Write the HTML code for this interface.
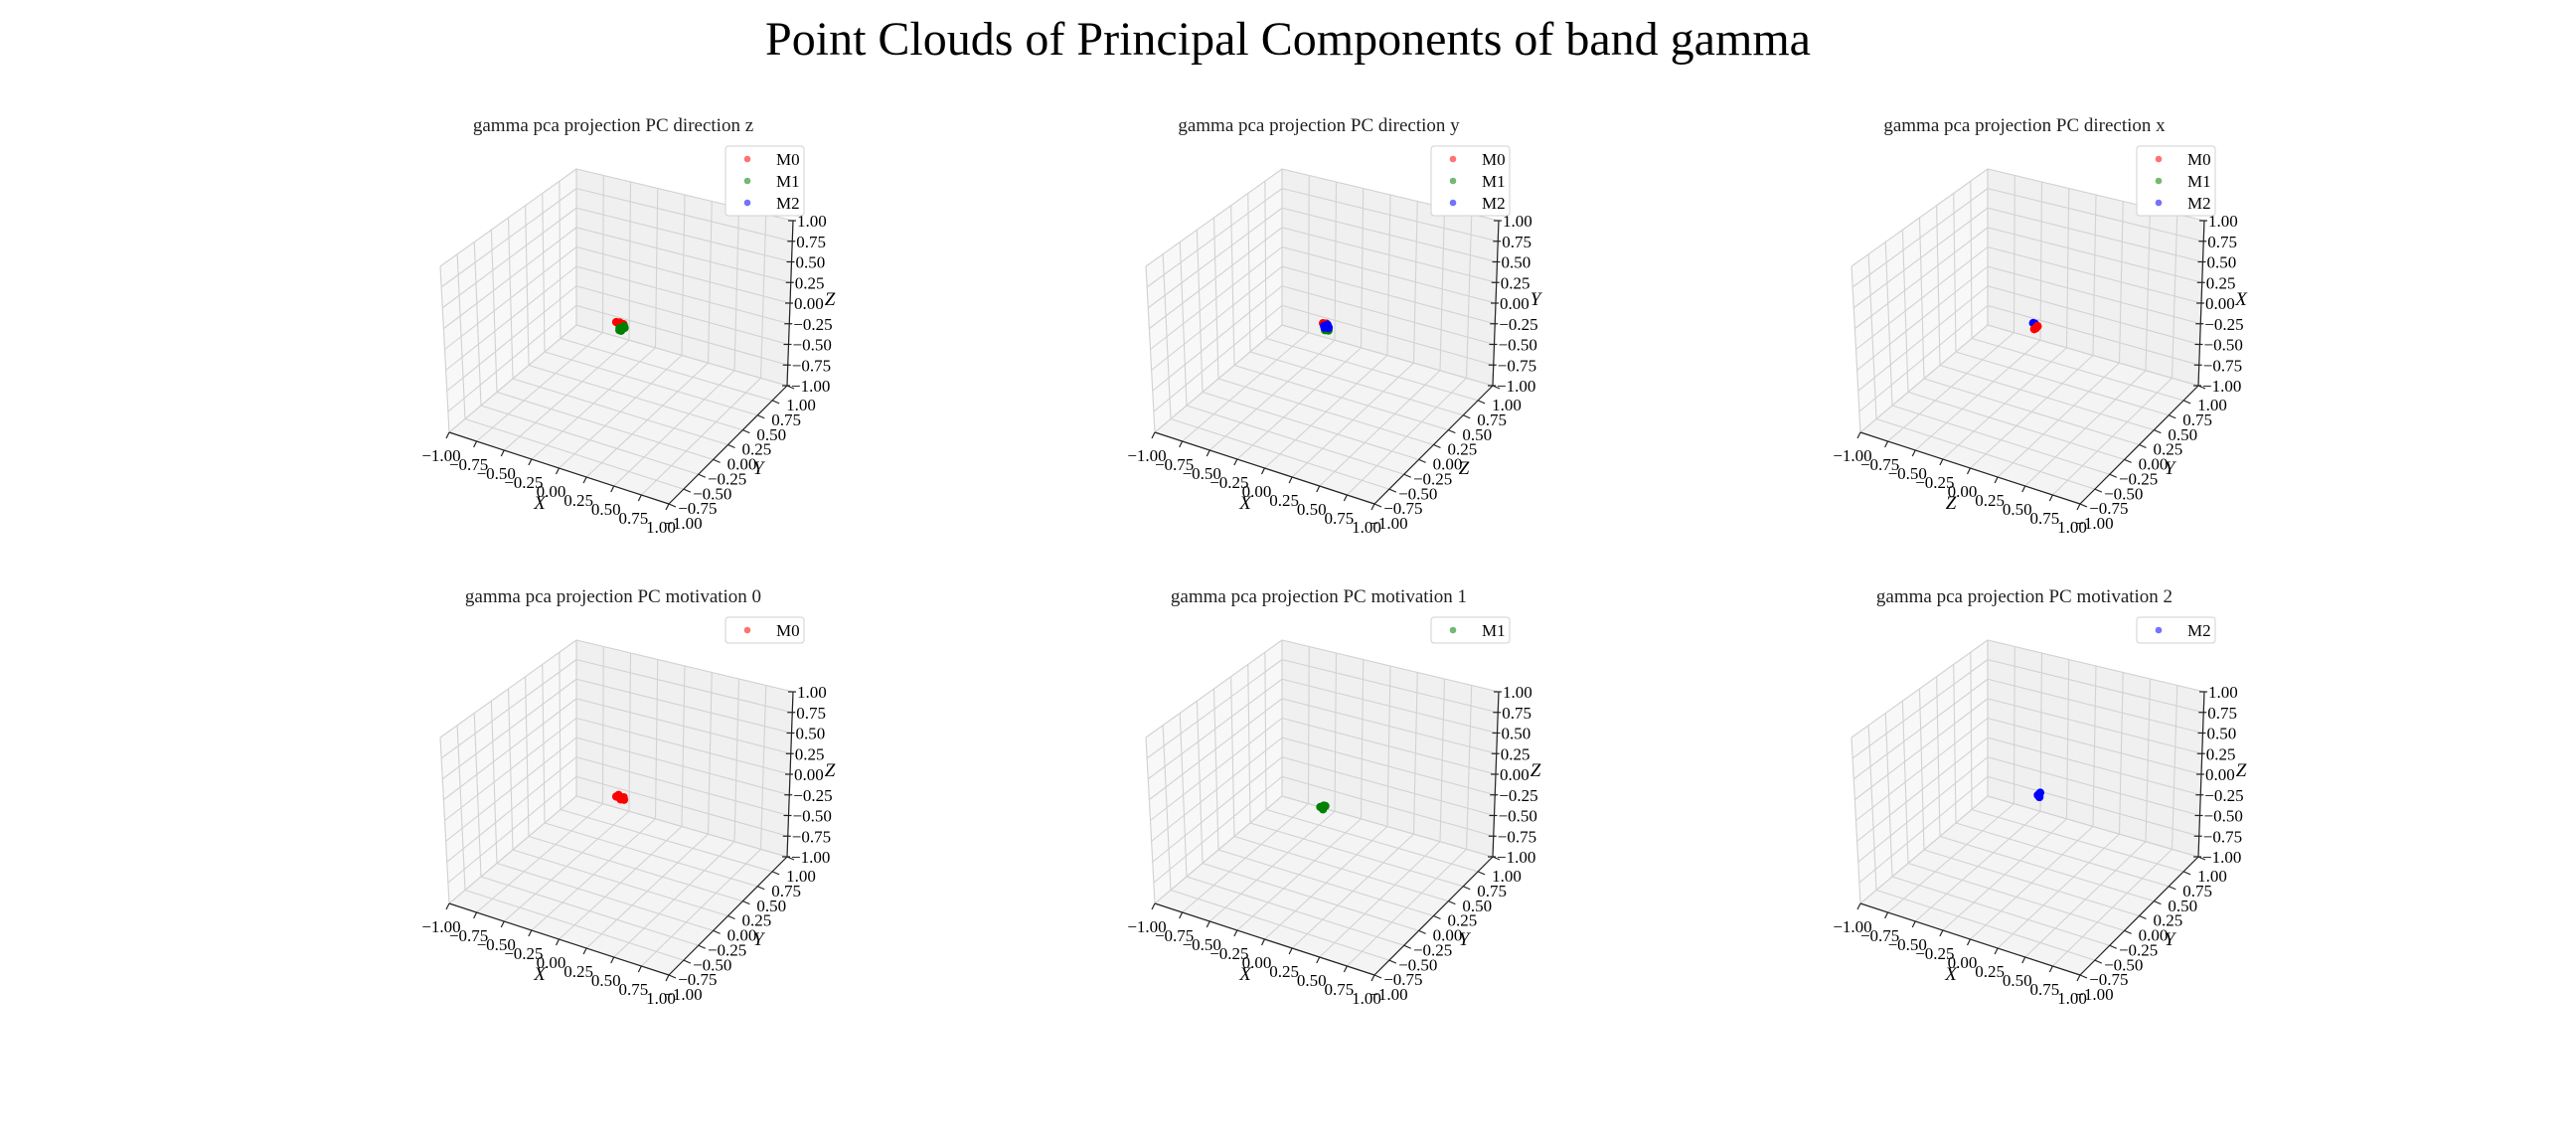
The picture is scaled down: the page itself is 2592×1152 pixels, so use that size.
<!DOCTYPE html>
<html><head><meta charset="utf-8">
<style>
html,body{margin:0;padding:0;background:#fff;}
svg{display:block;font-family:"Liberation Serif",serif;}
</style></head>
<body>
<svg id="fig" width="2592" height="1152" viewBox="0 0 2592 1152" xmlns="http://www.w3.org/2000/svg">
<rect width="2592" height="1152" fill="#fff"/>
<text x="1296" y="55" font-size="48" text-anchor="middle" fill="#000">Point Clouds of Principal Components of band gamma</text>
</svg>
<script>
const ticks = [-1, -0.75, -0.5, -0.25, 0, 0.25, 0.5, 0.75, 1];
const tickLabels = ["\u22121.00","\u22120.75","\u22120.50","\u22120.25","0.00","0.25","0.50","0.75","1.00"];
const plotTitles = ["gamma pca projection PC direction z","gamma pca projection PC direction y","gamma pca projection PC direction x","gamma pca projection PC motivation 0","gamma pca projection PC motivation 1","gamma pca projection PC motivation 2"];
const axisNames = [["X","Y","Z"],["X","Z","Y"],["Z","Y","X"],["X","Y","Z"],["X","Y","Z"],["X","Y","Z"]];
const seriesNames = ["M0","M1","M2"];
const seriesColors = ["#ff0000","#008000","#0000ff"];
const p0_m0_x=[-0.04,-0.02,0.0,0.02,-0.03,0.01], p0_m0_y=[0.0,0.02,-0.01,0.01,0.03,0.0], p0_m0_z=[0.07,0.06,0.05,0.06,0.04,0.03];
const p0_m1_x=[0.0,0.02,0.03,0.01,-0.01,0.02], p0_m1_y=[-0.02,0.0,0.01,-0.01,0.0,0.02], p0_m1_z=[0.0,0.01,0.02,-0.01,0.01,0.03];
const p0_m2_x=[0.01,0.02], p0_m2_y=[0.0,0.01], p0_m2_z=[0.01,0.02];
const p1_m0_x=[-0.03,-0.01,0.0], p1_m0_y=[0.0,0.02,0.01], p1_m0_z=[0.06,0.05,0.03];
const p1_m1_x=[0.0,0.02,0.01], p1_m1_y=[-0.02,0.0,-0.01], p1_m1_z=[0.0,-0.01,0.01];
const p1_m2_x=[-0.02,0.0,0.02,0.01,-0.01,0.02], p1_m2_y=[0.0,0.02,0.0,0.02,-0.01,-0.01], p1_m2_z=[0.03,0.04,0.02,0.01,0.02,0.04];
const p2_m0_x=[0.02,0.03,0.01,0.02], p2_m0_y=[0.03,0.04,0.02,0.05], p2_m0_z=[0.0,0.02,-0.01,0.01];
const p2_m1_x=[0.02], p2_m1_y=[0.03], p2_m1_z=[0.0];
const p2_m2_x=[0.0,0.01], p2_m2_y=[0.02,0.03], p2_m2_z=[0.06,0.05];
const p3_m0_x=[-0.04,-0.02,0.0,0.02,0.01,-0.03], p3_m0_y=[0.0,0.01,0.0,0.02,0.03,0.02], p3_m0_z=[0.03,0.02,0.01,0.0,0.02,0.04];
const p4_m1_x=[-0.02,0.0,0.02,0.01,-0.01], p4_m1_y=[-0.06,-0.04,-0.05,-0.07,-0.05], p4_m1_z=[-0.05,-0.04,-0.03,-0.06,-0.05];
const p5_m2_x=[0.02,0.03,0.04,0.03], p5_m2_y=[0.06,0.07,0.05,0.08], p5_m2_z=[0.03,0.04,0.02,0.05];
const clouds = [
  [[p0_m2_x,p0_m2_y,p0_m2_z],[p0_m0_x,p0_m0_y,p0_m0_z],[p0_m1_x,p0_m1_y,p0_m1_z]],
  [[p1_m0_x,p1_m0_y,p1_m0_z],[p1_m1_x,p1_m1_y,p1_m1_z],[p1_m2_x,p1_m2_y,p1_m2_z]],
  [[p2_m1_x,p2_m1_y,p2_m1_z],[p2_m2_x,p2_m2_y,p2_m2_z],[p2_m0_x,p2_m0_y,p2_m0_z]],
  [[p3_m0_x,p3_m0_y,p3_m0_z]],
  [[p4_m1_x,p4_m1_y,p4_m1_z]],
  [[p5_m2_x,p5_m2_y,p5_m2_z]]
];
const cloudSeries = [[2,0,1],[0,1,2],[1,2,0],[0],[1],[2]];
const legendSeries = [[0,1,2],[0,1,2],[0,1,2],[0],[1],[2]];

const NS="http://www.w3.org/2000/svg";
const svg=document.getElementById('fig');
const C={ '000':[452,435],'100':[673,507],'110':[792,388],'010':[580,327],
          '001':[443,268],'011':[580,170],'111':[798,222],'101':[678,332]};
function mk(tag,attrs,parent){const e=document.createElementNS(NS,tag);for(const k in attrs)e.setAttribute(k,attrs[k]);(parent||svg).appendChild(e);return e;}
function proj(x,y,z,ox,oy){
  const u=(x+1)/2,v=(y+1)/2,w=(z+1)/2;let sx=0,sy=0;
  for(const i of [0,1])for(const j of [0,1])for(const k of [0,1]){
    const wt=(i?u:1-u)*(j?v:1-v)*(k?w:1-w);const c=C[''+i+j+k];sx+=wt*c[0];sy+=wt*c[1];}
  return [sx+ox,sy+oy];
}
function poly(pts){return pts.map(p=>p[0].toFixed(1)+','+p[1].toFixed(1)).join(' ');}

for(let p=0;p<6;p++){
  const ox=(p%3)*710, oy=Math.floor(p/3)*474;
  const P=(x,y,z)=>proj(x,y,z,ox,oy);
  const g=mk('g',{});
  
  
  const t=mk('text',{x:617+ox,y:132+oy,'font-size':19,'text-anchor':'middle',fill:'#222'},g);
  
  
  t.textContent=plotTitles[p];
  const pl=mk('polygon',{points:poly([P(-1,-1,-1),P(-1,1,-1),P(-1,1,1),P(-1,-1,1)]),fill:'#f8f8f8',stroke:'#ececec'},g);
  
  const pb=mk('polygon',{points:poly([P(-1,1,-1),P(1,1,-1),P(1,1,1),P(-1,1,1)]),fill:'#f0f0f0',stroke:'#ececec'},g);
  
  const pf=mk('polygon',{points:poly([P(-1,-1,-1),P(1,-1,-1),P(1,1,-1),P(-1,1,-1)]),fill:'#f4f4f4',stroke:'#ececec'},g);
  
  const grid=mk('g',{stroke:'#d2d2d2','stroke-width':1.1,fill:'none'},g);
  
  for(const tv of ticks){
    const a=[[P(tv,-1,-1),P(tv,1,-1)],[P(tv,1,-1),P(tv,1,1)],
             [P(-1,tv,-1),P(1,tv,-1)],[P(-1,tv,-1),P(-1,tv,1)],
             [P(-1,-1,tv),P(-1,1,tv)],[P(-1,1,tv),P(1,1,tv)]];
    for(const s of a) mk('line',{x1:s[0][0],y1:s[0][1],x2:s[1][0],y2:s[1][1]},grid);
  }
  const ax=mk('g',{stroke:'#222','stroke-width':1.2,fill:'none'},g);
  
  let a1=P(-1,-1,-1),a2=P(1,-1,-1),a3=P(1,1,-1),a4=P(1,1,1);
  mk('line',{x1:a1[0],y1:a1[1],x2:a2[0],y2:a2[1]},ax);
  mk('line',{x1:a2[0],y1:a2[1],x2:a3[0],y2:a3[1]},ax);
  mk('line',{x1:a3[0],y1:a3[1],x2:a4[0],y2:a4[1]},ax);
  const tl=mk('g',{'font-size':17,fill:'#000'},g);
  
  ticks.forEach((tv,i)=>{
    let q=P(tv,-1,-1);
    mk('line',{x1:q[0],y1:q[1],x2:q[0]-3,y2:q[1]+6},ax);
    let e=mk('text',{x:q[0]-8,y:q[1]+29,'text-anchor':'middle'},tl);e.textContent=tickLabels[i];
    q=P(1,tv,-1);
    mk('line',{x1:q[0],y1:q[1],x2:q[0]+7,y2:q[1]+3},ax);
    e=mk('text',{x:q[0]+14,y:q[1]+25,'text-anchor':'middle'},tl);e.textContent=tickLabels[i];
    q=P(1,1,tv);
    mk('line',{x1:q[0]-5,y1:q[1],x2:q[0]+3,y2:q[1]},ax);
    e=mk('text',{x:q[0]+4,y:q[1]+6,'text-anchor':'start'},tl);e.textContent=tickLabels[i];
  });
  const names=axisNames[p];
  const lx=mk('text',{x:543+ox,y:512+oy,'font-size':19,'font-style':'italic','text-anchor':'middle'},g);
  lx.textContent=names[0];
  const ly=mk('text',{x:763+ox,y:477+oy,'font-size':19,'font-style':'italic','text-anchor':'middle'},g);
  ly.textContent=names[1];
  const lz=mk('text',{x:835+ox,y:307+oy,'font-size':19,'font-style':'italic','text-anchor':'middle'},g);
  lz.textContent=names[2];
  clouds[p].forEach((c,si)=>{
    const col=seriesColors[cloudSeries[p][si]];
    const sg=mk('g',{fill:col},g);
    
    
    for(let k=0;k<c[0].length;k++){
      const q=P(c[0][k],c[1][k],c[2][k]);
      const pt=mk('circle',{cx:q[0],cy:q[1],r:4.2},sg);
      
      
    }
  });
  const ls=legendSeries[p];
  const lg=mk('g',{},g);
  
  mk('rect',{x:730+ox,y:147+oy,width:79,height:4+22*ls.length,rx:3,fill:'#fff',stroke:'#d0d0d0','stroke-width':1},lg);
  ls.forEach((s,i)=>{
    const yy=160+oy+22*i;
    const le=mk('g',{},lg);
    
    mk('circle',{cx:752+ox,cy:yy,r:3.3,fill:seriesColors[s],'fill-opacity':0.55},le);
    const tx=mk('text',{x:781+ox,y:yy+6,'font-size':17},le);tx.textContent=seriesNames[s];
  });
}
</script>
</body></html>
